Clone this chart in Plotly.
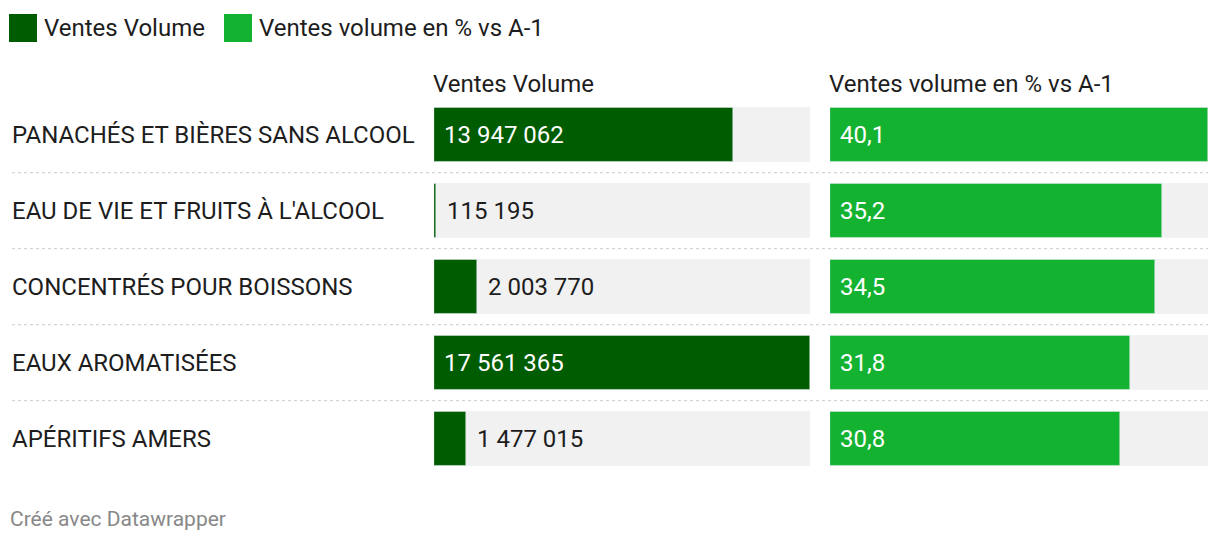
import plotly.graph_objects as go

categories = ["PANACHÉS ET BIÈRES SANS ALCOOL", "EAU DE VIE ET FRUITS À L'ALCOOL",
              "CONCENTRÉS POUR BOISSONS", "EAUX AROMATISÉES", "APÉRITIFS AMERS"]
ventes_volume = [13947062, 115195, 2003770, 17561365, 1477015]
ventes_pct = [40.1, 35.2, 34.5, 31.8, 30.8]
series_names = ["Ventes Volume", "Ventes volume en % vs A-1"]
footer = "Créé avec Datawrapper"

W, H = 1220, 542
DARK = "#005c00"
LIGHT = "#14b231"
BG = "#f1f1f1"
TXT = "#1d1d1d"
FONT = "Roboto"
FS = 24

def py(px):
    return 1 - px / H

def px_(x):
    return x / W

idx = list(range(len(categories)))
max_v = max(ventes_volume)
max_p = max(ventes_pct)

fig = go.Figure()
bw = 54 / 76
# backgrounds
fig.add_trace(go.Bar(x=[max_v] * len(idx), y=idx, orientation="h", marker_color=BG,
                     width=bw, xaxis="x", yaxis="y", hoverinfo="skip", showlegend=False))
fig.add_trace(go.Bar(x=[max_p] * len(idx), y=idx, orientation="h", marker_color=BG,
                     width=bw, xaxis="x2", yaxis="y", hoverinfo="skip", showlegend=False))
fig.add_trace(go.Bar(x=ventes_volume, y=idx, orientation="h", marker_color=DARK,
                     width=bw, xaxis="x", yaxis="y", name=series_names[0], showlegend=False))
fig.add_trace(go.Bar(x=ventes_pct, y=idx, orientation="h", marker_color=LIGHT,
                     width=bw, xaxis="x2", yaxis="y", name=series_names[1], showlegend=False))

def fmt_int(v):
    return f"{v:,}".replace(",", " ")

def fmt_pct(v):
    return f"{v:.1f}".replace(".", ",")

annotations = []
shapes = []

for i, (v, p) in enumerate(zip(ventes_volume, ventes_pct)):
    inside = v / max_v > 0.3
    annotations.append(dict(xref="x", yref="y", x=0 if inside else v, y=i,
                            xshift=8 if inside else 9, xanchor="left", yanchor="middle",
                            text=fmt_int(v), showarrow=False,
                            font=dict(family=FONT, size=FS, color="white" if inside else TXT)))
    inside = p / max_p > 0.3
    annotations.append(dict(xref="x2", yref="y", x=0 if inside else p, y=i,
                            xshift=8 if inside else 9, xanchor="left", yanchor="middle",
                            text=fmt_pct(p), showarrow=False,
                            font=dict(family=FONT, size=FS, color="white" if inside else TXT)))
    annotations.append(dict(xref="paper", yref="y", x=px_(10), y=i, xanchor="left",
                            yanchor="middle", text=categories[i], showarrow=False,
                            font=dict(family=FONT, size=FS, color=TXT)))

for i in range(len(idx) - 1):
    shapes.append(dict(type="line", xref="paper", yref="y", x0=px_(12), x1=px_(1208),
                       y0=i + 0.5, y1=i + 0.5, line=dict(color="#cccccc", width=1, dash="dot")))

# column headers
annotations.append(dict(xref="paper", yref="paper", x=px_(431), y=py(84), xanchor="left",
                        yanchor="middle", text=series_names[0], showarrow=False,
                        font=dict(family=FONT, size=FS, color=TXT)))
annotations.append(dict(xref="paper", yref="paper", x=px_(827), y=py(84), xanchor="left",
                        yanchor="middle", text=series_names[1], showarrow=False,
                        font=dict(family=FONT, size=FS, color=TXT)))

# legend
leg = [(9, series_names[0], DARK), (224, series_names[1], LIGHT)]
for x0, name, col in leg:
    shapes.append(dict(type="rect", xref="paper", yref="paper", x0=px_(x0), x1=px_(x0 + 28),
                       y0=py(42), y1=py(14), fillcolor=col, line=dict(width=0)))
    annotations.append(dict(xref="paper", yref="paper", x=px_(x0 + 33), y=py(28), xanchor="left",
                            yanchor="middle", text=name, showarrow=False,
                            font=dict(family=FONT, size=FS, color=TXT)))

annotations.append(dict(xref="paper", yref="paper", x=px_(8), y=py(519), xanchor="left",
                        yanchor="middle", text=footer, showarrow=False,
                        font=dict(family=FONT, size=21, color="#888888")))

ytop, ybot = 134.7 - 38, 134.7 + 38 * 9
fig.update_layout(
    width=W, height=H, margin=dict(l=0, r=0, t=0, b=0),
    paper_bgcolor="white", plot_bgcolor="white", barmode="overlay", bargap=0,
    xaxis=dict(domain=[px_(434), px_(810)], range=[0, max_v], visible=False, fixedrange=True),
    xaxis2=dict(domain=[px_(830), px_(1208)], range=[0, max_p], visible=False, fixedrange=True,
                anchor="y"),
    yaxis=dict(domain=[py(ybot), py(ytop)], range=[4.5, -0.5], visible=False, fixedrange=True),
    annotations=annotations, shapes=shapes, showlegend=False,
)
fig.write_html("out.html", config={"displayModeBar": False},
               post_script="document.body.style.margin='0';document.body.style.overflow='hidden';")
